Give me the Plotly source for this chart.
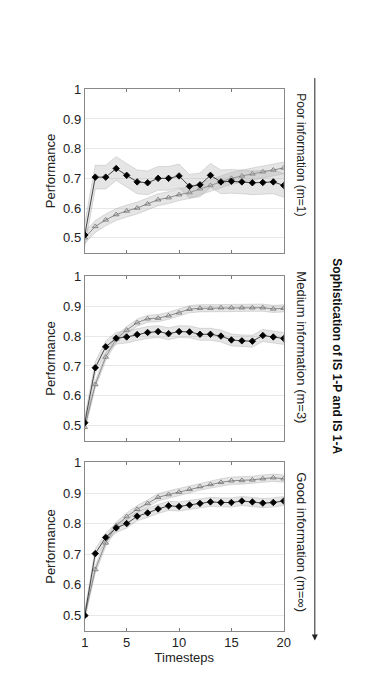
import plotly.graph_objects as go

# Timesteps shared by all panels
steps = list(range(1, 21))

# Panel labels (top to bottom)
panel_names = ["Poor information (m=1)", "Medium information (m=3)", "Good information (m=\u221e)"]

# IS 1-P (filled diamonds) per panel
poor_p = [0.509, 0.704, 0.704, 0.733, 0.710, 0.688, 0.685, 0.700, 0.700, 0.708,
          0.673, 0.678, 0.710, 0.688, 0.690, 0.688, 0.685, 0.686, 0.688, 0.676]
medium_p = [0.510, 0.694, 0.764, 0.793, 0.797, 0.805, 0.812, 0.815, 0.808, 0.815,
            0.814, 0.806, 0.806, 0.800, 0.787, 0.784, 0.783, 0.802, 0.797, 0.792]
good_p = [0.500, 0.702, 0.755, 0.786, 0.800, 0.824, 0.835, 0.848, 0.858, 0.856,
          0.861, 0.866, 0.871, 0.869, 0.869, 0.874, 0.871, 0.867, 0.869, 0.874]

# IS 1-A (open triangles) per panel
poor_a = [0.500, 0.538, 0.560, 0.578, 0.590, 0.600, 0.614, 0.628, 0.635, 0.645,
          0.652, 0.665, 0.676, 0.688, 0.700, 0.708, 0.715, 0.722, 0.728, 0.735]
medium_a = [0.495, 0.638, 0.730, 0.790, 0.820, 0.845, 0.858, 0.860, 0.868, 0.878,
            0.890, 0.893, 0.893, 0.895, 0.895, 0.895, 0.895, 0.895, 0.891, 0.893]
good_a = [0.500, 0.650, 0.737, 0.793, 0.823, 0.847, 0.866, 0.886, 0.895, 0.903,
          0.912, 0.921, 0.928, 0.935, 0.940, 0.941, 0.943, 0.947, 0.950, 0.947]

# Half-width of the shaded confidence bands per panel
band_p = [0.04, 0.02, 0.015]
band_a = [0.02, 0.012, 0.012]

series_p = [poor_p, medium_p, good_p]
series_a = [poor_a, medium_a, good_a]

W, H = 374, 691
# panel pixel boxes (top, bottom)
boxes = [(75, 240), (264, 430), (452, 622)]
x_left, x_right = 75, 280

fig = go.Figure()

for i in range(3):
    ax = "" if i == 0 else str(i + 1)
    xa, ya = "x" + ax, "y" + ax
    for vals, hw, mk, msize, mcol, lcol in [
        (series_a[i], band_a[i], "triangle-up-open", 5, "#707070", "#808080"),
        (series_p[i], band_p[i], "diamond", 5, "black", "#333333"),
    ]:
        upper = [v + hw for v in vals]
        lower = [v - hw for v in vals]
        fig.add_trace(go.Scatter(x=steps + steps[::-1], y=upper + lower[::-1],
                                 mode="lines", fill="toself",
                                 fillcolor="rgba(170,170,170,0.3)",
                                 line=dict(color="rgba(150,150,150,0.6)", width=0.5),
                                 hoverinfo="skip", showlegend=False, xaxis=xa, yaxis=ya))
        fig.add_trace(go.Scatter(x=steps, y=vals, mode="lines+markers",
                                 line=dict(color=lcol, width=0.9),
                                 marker=dict(symbol=mk, size=msize, color=mcol,
                                             line=dict(width=0.8, color=mcol)),
                                 showlegend=False, xaxis=xa, yaxis=ya))

layout = dict(width=W, height=H, margin=dict(l=0, r=0, t=0, b=0),
              paper_bgcolor="white", plot_bgcolor="white",
              font=dict(family="Liberation Sans, Arial, sans-serif", color="#222222", size=13))

for i, (top, bot) in enumerate(boxes):
    ax = "" if i == 0 else str(i + 1)
    layout["xaxis" + ax] = dict(domain=[x_left / W, x_right / W], range=[1, 20],
                                anchor="y" + ax, tickvals=[1, 5, 10, 15, 20],
                                showticklabels=(i == 2), ticks="inside", ticklen=3,
                                tickcolor="#777777", showline=True, linecolor="#888888",
                                linewidth=1, mirror="ticks", showgrid=False, zeroline=False,
                                tickfont=dict(size=13))
    layout["yaxis" + ax] = dict(domain=[1 - bot / H, 1 - top / H], range=[0.45, 1.0],
                                anchor="x" + ax, tickvals=[0.5, 0.6, 0.7, 0.8, 0.9, 1],
                                ticktext=["0.5", "0.6", "0.7", "0.8", "0.9", "1"],
                                ticks="", showline=True, linecolor="#888888", linewidth=1,
                                mirror=True, showgrid=True, gridcolor="#e8e8e8",
                                zeroline=False, tickfont=dict(size=13),
                                title=dict(text="Performance", standoff=4, font=dict(size=13)))

layout["xaxis3"]["title"] = dict(text="Timesteps", standoff=2, font=dict(size=13))

annotations = []
label_centers = [141, 336, 533]
label_sizes = [12, 13, 13]
for name, cy, fs in zip(panel_names, label_centers, label_sizes):
    annotations.append(dict(text=name, x=298 / W, y=1 - cy / H, xref="paper", yref="paper",
                            showarrow=False, textangle=90, font=dict(size=fs, color="#222222"),
                            xanchor="center", yanchor="middle"))
annotations.append(dict(text="<b>Sophistication of IS 1-P and IS 1-A</b>", x=335 / W,
                        y=1 - 345 / H, xref="paper", yref="paper", showarrow=False,
                        textangle=90, font=dict(size=12, color="#111111"),
                        xanchor="center", yanchor="middle"))
annotations.append(dict(text="", x=312 / W, y=1 - 632 / H, xref="paper", yref="paper",
                        showarrow=True, ax=0, ay=-564, arrowhead=2, arrowsize=1.2,
                        arrowwidth=1, arrowcolor="#222222"))
layout["annotations"] = annotations

fig.update_layout(**layout)
fig.write_html("out.html")
